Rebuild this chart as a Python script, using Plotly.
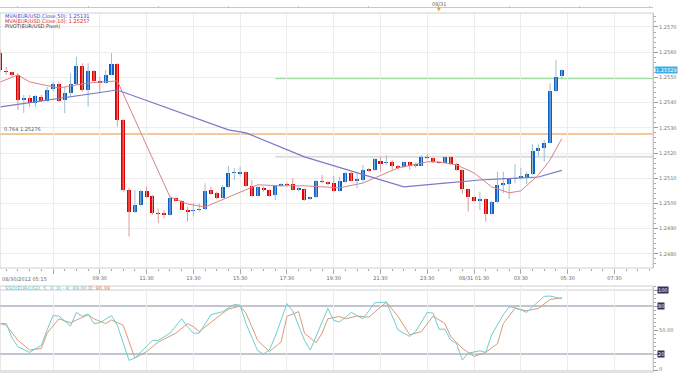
import plotly.graph_objects as go
import pandas as pd

# ---------------- data ----------------
times = pd.date_range("2012-08-30 05:15", periods=97, freq="15min")

open_ = [1.25597, 1.25526, 1.25521, 1.25510, 1.25410, 1.25420, 1.25400, 1.25424, 1.25407, 1.25453,
         1.25473, 1.25410, 1.25437, 1.25473, 1.25547, 1.25450, 1.25527, 1.25486, 1.25479, 1.25510,
         1.25553, 1.25331, 1.25054, 1.24968, 1.24992, 1.25050, 1.25030, 1.24964, 1.24962, 1.24955,
         1.25021, 1.25010, 1.24974, 1.24970, 1.24974, 1.24978, 1.25054, 1.25041, 1.25023, 1.25067,
         1.25120, 1.25117, 1.25124, 1.25071, 1.25030, 1.25063, 1.25054, 1.25034, 1.25071, 1.25077,
         1.25076, 1.25054, 1.25058, 1.25018, 1.25025, 1.25089, 1.25084, 1.25080, 1.25051, 1.25087,
         1.25122, 1.25091, 1.25093, 1.25137, 1.25133, 1.25170, 1.25159, 1.25164, 1.25150, 1.25144,
         1.25164, 1.25150, 1.25150, 1.25186, 1.25179, 1.25163, 1.25159, 1.25183, 1.25157, 1.25133,
         1.25057, 1.25025, 1.25010, 1.25017, 1.24957, 1.25007, 1.25073, 1.25077, 1.25096, 1.25100,
         1.25106, 1.25116, 1.25208, 1.25220, 1.25241, 1.25446, 1.25505]
high = [1.25609, 1.25541, 1.25524, 1.25518, 1.25430, 1.25430, 1.25430, 1.25430, 1.25462, 1.25483,
        1.25483, 1.25463, 1.25516, 1.25582, 1.25556, 1.25556, 1.25529, 1.25503, 1.25529, 1.25596,
        1.25556, 1.25335, 1.25062, 1.25054, 1.25054, 1.25067, 1.25034, 1.24981, 1.24974, 1.25027,
        1.25025, 1.25014, 1.24987, 1.25001, 1.25001, 1.25080, 1.25067, 1.25047, 1.25073, 1.25149,
        1.25140, 1.25146, 1.25126, 1.25093, 1.25070, 1.25067, 1.25057, 1.25073, 1.25080, 1.25083,
        1.25100, 1.25067, 1.25060, 1.25027, 1.25093, 1.25113, 1.25087, 1.25109, 1.25106, 1.25126,
        1.25126, 1.25120, 1.25153, 1.25140, 1.25179, 1.25186, 1.25192, 1.25173, 1.25153, 1.25166,
        1.25166, 1.25162, 1.25192, 1.25195, 1.25182, 1.25166, 1.25186, 1.25186, 1.25160, 1.25136,
        1.25059, 1.25027, 1.25047, 1.25021, 1.25010, 1.25126, 1.25126, 1.25100, 1.25156, 1.25142,
        1.25126, 1.25235, 1.25235, 1.25252, 1.25477, 1.25569, 1.25532]
low = [1.25522, 1.25510, 1.25502, 1.25371, 1.25359, 1.25383, 1.25383, 1.25403, 1.25403, 1.25444,
       1.25403, 1.25358, 1.25424, 1.25470, 1.25443, 1.25384, 1.25482, 1.25437, 1.25477, 1.25508,
       1.25305, 1.25047, 1.24869, 1.24962, 1.24988, 1.25021, 1.24955, 1.24922, 1.24941, 1.24952,
       1.25007, 1.24972, 1.24928, 1.24948, 1.24967, 1.24974, 1.25034, 1.25017, 1.25021, 1.25062,
       1.25093, 1.25106, 1.25067, 1.25027, 1.25027, 1.25047, 1.25027, 1.25014, 1.25067, 1.25067,
       1.25051, 1.25047, 1.25011, 1.25014, 1.25022, 1.25080, 1.25073, 1.25047, 1.25047, 1.25083,
       1.25087, 1.25060, 1.25087, 1.25126, 1.25129, 1.25126, 1.25153, 1.25133, 1.25133, 1.25140,
       1.25133, 1.25140, 1.25149, 1.25175, 1.25159, 1.25157, 1.25157, 1.25154, 1.25130, 1.25038,
       1.24968, 1.25007, 1.24974, 1.24928, 1.24955, 1.25003, 1.25041, 1.25017, 1.25080, 1.25096,
       1.25077, 1.25113, 1.25186, 1.25166, 1.25239, 1.25443, 1.25498]
close = [1.25529, 1.25521, 1.25509, 1.25410, 1.25417, 1.25400, 1.25426, 1.25407, 1.25450, 1.25473,
         1.25408, 1.25437, 1.25473, 1.25547, 1.25450, 1.25527, 1.25486, 1.25477, 1.25510, 1.25553,
         1.25331, 1.25054, 1.24968, 1.24992, 1.25050, 1.25027, 1.24962, 1.24959, 1.24955, 1.25021,
         1.25010, 1.24974, 1.24967, 1.24974, 1.24978, 1.25050, 1.25038, 1.25021, 1.25067, 1.25120,
         1.25124, 1.25124, 1.25071, 1.25030, 1.25067, 1.25054, 1.25031, 1.25071, 1.25076, 1.25072,
         1.25054, 1.25060, 1.25014, 1.25025, 1.25089, 1.25084, 1.25077, 1.25051, 1.25089, 1.25122,
         1.25089, 1.25096, 1.25133, 1.25130, 1.25175, 1.25157, 1.25166, 1.25149, 1.25142, 1.25164,
         1.25150, 1.25157, 1.25186, 1.25179, 1.25163, 1.25159, 1.25183, 1.25157, 1.25133, 1.25057,
         1.25025, 1.25010, 1.25017, 1.24957, 1.25007, 1.25073, 1.25080, 1.25096, 1.25103, 1.25107,
         1.25116, 1.25208, 1.25222, 1.25241, 1.25446, 1.25503, 1.25529]

# moving averages (read at visible knots; candle index -> value)
ma50_idx = [0, 6, 11, 20, 39, 42, 52, 69, 76, 82, 92, 96]
ma50_val = [1.25383, 1.25403, 1.25422, 1.25450, 1.25292, 1.25280, 1.25185, 1.25066,
            1.25081, 1.25093, 1.25105, 1.25131]
ma10_idx = [0, 3, 5, 10, 15, 19, 20, 29, 32, 35, 39, 44, 48, 52, 58, 62, 68, 73, 75,
            78, 81, 84, 87, 89, 92, 94, 96]
ma10_val = [1.25482, 1.25510, 1.25482, 1.25458, 1.25478, 1.25486, 1.25486, 1.25026, 1.24998,
            1.24986, 1.25026, 1.25074, 1.25070, 1.25070, 1.25062, 1.25081, 1.25141, 1.25165,
            1.25165, 1.25153, 1.25121, 1.25066, 1.25042, 1.25050, 1.25113, 1.25173, 1.25257]

pivot_level = 1.25185
r1_level = 1.25495
fib_level = 1.25276
pivot_start = "2012-08-30 17:00"
last_price = 1.25529

# slow stochastic (5,3,3)
k_idx = [0, 1, 2, 3, 5, 6, 7, 8, 9, 10, 12, 13, 14, 15, 16, 17, 19, 20, 22, 23, 26, 27, 29,
         31, 32, 33, 34, 36, 38, 40, 41, 42, 44, 45, 46, 47, 49, 50, 52, 53, 54, 56, 57, 58,
         60, 62, 64, 66, 68, 70, 71, 73, 74, 75, 76, 77, 78, 79, 80, 82, 83, 84, 86, 87, 88,
         90, 91, 93, 94, 96]
k_val = [58, 58, 40, 29, 22, 27, 31, 50, 68, 67.5, 55, 72, 67, 70, 58, 59, 68, 56, 12, 15, 37,
         37, 46, 64, 54, 46, 46, 69, 73, 82, 81, 58, 24, 20, 25, 42, 83, 74, 37, 25, 42, 77,
         62, 60, 72, 64, 84, 85, 50, 42, 48, 72, 71, 51, 51, 37.5, 33, 12.5, 21, 24, 22, 44,
         69, 79, 78, 72, 79, 92, 92.5, 89]
d_idx = [0, 1, 3, 5, 7, 8, 10, 12, 13, 15, 16, 18, 19, 21, 23, 25, 27, 30, 32, 33, 34, 36,
         38, 39, 41, 42, 44, 46, 48, 49, 51, 52, 54, 55, 56, 58, 59, 61, 63, 66, 68, 70, 72,
         74, 76, 77, 79, 81, 83, 85, 86, 88, 90, 92, 94, 96]
d_val = [58, 56, 37, 25, 27, 46, 64, 59, 62.5, 69, 64, 58, 62.5, 56, 15, 23, 35, 46, 58, 54,
         48, 60, 71, 76, 80, 71, 37, 23, 35, 67, 73, 46, 34, 46, 64, 67, 64, 67.5, 66, 85, 67,
         44, 48, 67.5, 58, 42, 27, 17, 22, 33, 58, 77, 74, 77, 88, 90.39]

y_ticks = [1.2480, 1.2490, 1.2500, 1.2510, 1.2520, 1.2530, 1.2540, 1.2550, 1.2560, 1.2570]
x_tick_times = ["2012-08-30 07:30", "2012-08-30 09:30", "2012-08-30 11:30", "2012-08-30 13:30",
                "2012-08-30 15:30", "2012-08-30 17:30", "2012-08-30 19:30", "2012-08-30 21:30",
                "2012-08-30 23:30", "2012-08-31 01:30", "2012-08-31 03:30", "2012-08-31 05:30",
                "2012-08-31 07:30"]
x_tick_text = ["", "09:30", "11:30", "13:30", "15:30", "17:30", "19:30", "21:30", "23:30",
               "08/31 01:30", "03:30", "05:30", "07:30"]

# ---------------- style ----------------
UP = "#0f5fc4"
DOWN = "#e00000"
UP_WICK = "#9fbfd2"
DOWN_WICK = "#e09a9a"
FONT = "DejaVu Sans"
FS = 5
W, H = 680, 374

def py(px):
    return (H - px) / H

X0, X1 = 0.0, 653 / W
xr = ["2012-08-30 05:14:00", "2012-08-31 09:09:00"]

fig = go.Figure()

up = [c > o for o, c in zip(open_, close)]

# wicks
for flag, col in [(True, UP_WICK), (False, DOWN_WICK)]:
    wx, wy = [], []
    for t, hi, lo, u in zip(times, high, low, up):
        if u == flag:
            wx += [t, t, None]
            wy += [lo, hi, None]
    fig.add_trace(go.Scatter(x=wx, y=wy, mode="lines", line=dict(color=col, width=1),
                             hoverinfo="skip", showlegend=False, xaxis="x", yaxis="y"))

# bodies
base = [min(o, c) for o, c in zip(open_, close)]
hgt = [max(abs(c - o), 0.00003) for o, c in zip(open_, close)]
fig.add_trace(go.Bar(x=times, y=hgt, base=base, width=620000,
                     marker=dict(color=[UP if u else DOWN for u in up], line=dict(width=0)),
                     showlegend=False, xaxis="x", yaxis="y"))

# MAs
fig.add_trace(go.Scatter(x=[times[i] for i in ma50_idx], y=ma50_val, mode="lines",
                         line=dict(color="#7b78c4", width=1.2), showlegend=False,
                         xaxis="x", yaxis="y"))
fig.add_trace(go.Scatter(x=[times[i] for i in ma10_idx], y=ma10_val, mode="lines",
                         line=dict(color="#d68484", width=1), showlegend=False,
                         xaxis="x", yaxis="y"))

# stochastic
fig.add_trace(go.Scatter(x=[times[i] for i in d_idx], y=d_val, mode="lines",
                         line=dict(color="#d99a7a", width=1), showlegend=False,
                         xaxis="x2", yaxis="y2"))
fig.add_trace(go.Scatter(x=[times[i] for i in k_idx], y=k_val, mode="lines",
                         line=dict(color="#6fcdd0", width=1), showlegend=False,
                         xaxis="x2", yaxis="y2"))

shapes = [
    dict(type="line", xref="x", yref="y", x0=xr[0], x1=xr[1], y0=fib_level, y1=fib_level,
         line=dict(color="#f4c89c", width=2), layer="below"),
    dict(type="line", xref="x", yref="y", x0=pivot_start, x1=xr[1], y0=r1_level, y1=r1_level,
         line=dict(color="#8fd88f", width=1), layer="below"),
    dict(type="line", xref="x", yref="y", x0=pivot_start, x1=xr[1], y0=pivot_level, y1=pivot_level,
         line=dict(color="#dcdcdc", width=2), layer="below"),
    dict(type="line", xref="x2", yref="y2", x0=xr[0], x1=xr[1], y0=80, y1=80,
         line=dict(color="#aeb0c0", width=1.5), layer="below"),
    dict(type="line", xref="x2", yref="y2", x0=xr[0], x1=xr[1], y0=20, y1=20,
         line=dict(color="#aeb0c0", width=1.5), layer="below"),
    dict(type="line", xref="x2", yref="y2", x0=xr[0], x1=xr[1], y0=100, y1=100,
         line=dict(color="#d0d0d8", width=1), layer="below"),
    # panel borders
    dict(type="rect", xref="paper", yref="paper", x0=X0, x1=X1, y0=py(268), y1=py(13),
         line=dict(color="#d0d0d0", width=1)),
    dict(type="rect", xref="paper", yref="paper", x0=X0, x1=X1, y0=py(372), y1=py(286),
         line=dict(color="#d0d0d0", width=1)),
    dict(type="line", xref="paper", yref="paper", x0=X0, x1=X1, y0=py(371.5), y1=py(371.5),
         line=dict(color="#e2e2e2", width=3)),
    # top navigator line
    dict(type="line", xref="paper", yref="paper", x0=0, x1=X1, y0=py(7.5), y1=py(7.5),
         line=dict(color="#c8c8c8", width=1)),
]

annotations = [
    dict(text="MVA(EUR/USD,Close,50): 1.25131", x=0.005, y=py(16), xref="paper", yref="paper",
         xanchor="left", yanchor="middle", showarrow=False, font=dict(color="#3c3cc8", size=FS, family=FONT)),
    dict(text="MVA(EUR/USD,Close,10): 1.25257", x=0.005, y=py(21), xref="paper", yref="paper",
         xanchor="left", yanchor="middle", showarrow=False, font=dict(color="#d82020", size=FS, family=FONT)),
    dict(text="PIVOT(EUR/USD,Pivot)", x=0.005, y=py(26), xref="paper", yref="paper",
         xanchor="left", yanchor="middle", showarrow=False, font=dict(color="#333333", size=FS, family=FONT)),
    dict(text="0.764 1.25276", x=0.003, y=fib_level, xref="paper", yref="y",
         xanchor="left", yanchor="bottom", yshift=0, showarrow=False,
         font=dict(color="#555555", size=FS, family=FONT)),
    dict(text="08/30/2012 05:15", x=0.0, y=py(278.5), xref="paper", yref="paper",
         xanchor="left", yanchor="middle", showarrow=False, font=dict(color="#666666", size=FS, family=FONT)),
    dict(text="08/31", x="2012-08-31 00:00", y=py(3.5), xref="x", yref="paper",
         xanchor="center", yanchor="middle", showarrow=False, font=dict(color="#666666", size=FS, family=FONT)),
    dict(text="▼", x="2012-08-31 00:00", y=py(9.5), xref="x", yref="paper",
         xanchor="center", yanchor="middle", showarrow=False, font=dict(color="#f0a030", size=5, family=FONT)),
    dict(text="1.25529", x=X1 + 0.003, y=last_price, xref="paper", yref="y",
         xanchor="left", yanchor="middle", showarrow=False, bgcolor="#3aaee6",
         font=dict(color="white", size=FS, family=FONT), borderpad=0),
    dict(text="SSO(EUR/USD, 5, 3, 3) - <span style='color:#5fc0c8'>K: 89.00</span> "
              "<span style='color:#e07040'>D: 90.39</span>",
         x=0.005, y=py(287.5), xref="paper", yref="paper", xanchor="left", yanchor="middle",
         showarrow=False, font=dict(color="#5fc0c8", size=FS, family=FONT)),
]
for lvl, txt in [(100, "100"), (80, "80"), (20, "20")]:
    annotations.append(dict(text=txt, x=X1 + 0.006, y=lvl, xref="paper", yref="y2",
                            xanchor="left", yanchor="middle", showarrow=False,
                            bgcolor="#30305a", borderpad=0,
                            font=dict(color="white", size=FS, family=FONT)))
annotations.append(dict(text="50.00", x=X1 + 0.006, y=50, xref="paper", yref="y2",
                        xanchor="left", yanchor="middle", showarrow=False,
                        font=dict(color="#777777", size=FS, family=FONT)))
annotations.append(dict(text="0", x=X1 + 0.006, y=1, xref="paper", yref="y2",
                        xanchor="left", yanchor="middle", showarrow=False,
                        font=dict(color="#777777", size=FS, family=FONT)))

grid = "#ececec"
fig.update_layout(
    width=W, height=H, margin=dict(l=0, r=0, t=0, b=0, autoexpand=False),
    paper_bgcolor="white", plot_bgcolor="white", showlegend=False, bargap=0,
    font=dict(family=FONT, size=FS, color="#666666"),
    xaxis=dict(domain=[X0, X1], anchor="y", type="date", range=xr, automargin=False,
               tickvals=x_tick_times, ticktext=x_tick_text, showgrid=True, gridcolor=grid,
               ticks="outside", ticklen=5, tickcolor="#aaaaaa", tickfont=dict(size=FS, color="#666666"),
               minor=dict(ticks="outside", ticklen=2, tickcolor="#aaaaaa", dtick=1800000,
                          tick0="2012-08-30 05:30", showgrid=False),
               showline=False, zeroline=False, fixedrange=True),
    yaxis=dict(domain=[py(268), py(13)], anchor="x", side="right", range=[1.24744, 1.257555],
               automargin=False,
               tickvals=y_ticks, ticktext=[f"{v:.4f}" for v in y_ticks],
               showgrid=True, gridcolor=grid, ticks="outside", ticklen=4, tickcolor="#999999",
               tickfont=dict(size=FS, color="#777777"),
               minor=dict(ticks="outside", ticklen=2, tickcolor="#aaaaaa", dtick=0.0002, showgrid=False),
               showline=True, linecolor="#bbbbbb", zeroline=False),
    xaxis2=dict(domain=[X0, X1], anchor="y2", type="date", range=xr, matches="x", automargin=False,
                tickvals=x_tick_times, showticklabels=False, showgrid=True, gridcolor=grid,
                ticks="", showline=False, zeroline=False),
    yaxis2=dict(domain=[py(372), py(286)], anchor="x2", side="right", range=[-2.5, 105],
                automargin=False,
                tickvals=[0, 20, 50, 80, 100], showticklabels=False, showgrid=False,
                ticks="outside", ticklen=4, tickcolor="#999999",
                minor=dict(ticks="outside", ticklen=2, tickcolor="#aaaaaa", dtick=5),
                showline=True, linecolor="#bbbbbb", zeroline=False),
    xaxis3=dict(overlaying="x", anchor="free", position=py(7.5), side="top", type="date",
                automargin=False,
                range=xr, dtick=10800000, tick0="2012-08-30 06:00", ticks="outside",
                ticklen=2, tickcolor="#bbbbbb", showticklabels=False, showgrid=False,
                showline=False, zeroline=False),
    shapes=shapes, annotations=annotations,
)
# invisible trace to activate top axis
fig.add_trace(go.Scatter(x=[times[0]], y=[close[0]], mode="markers", marker=dict(opacity=0),
                         xaxis="x3", yaxis="y", hoverinfo="skip", showlegend=False))

fig.write_html("out.html", config={"displayModeBar": False, "staticPlot": True},
               post_script="document.body.style.margin='0px';document.body.style.overflow='hidden';")
